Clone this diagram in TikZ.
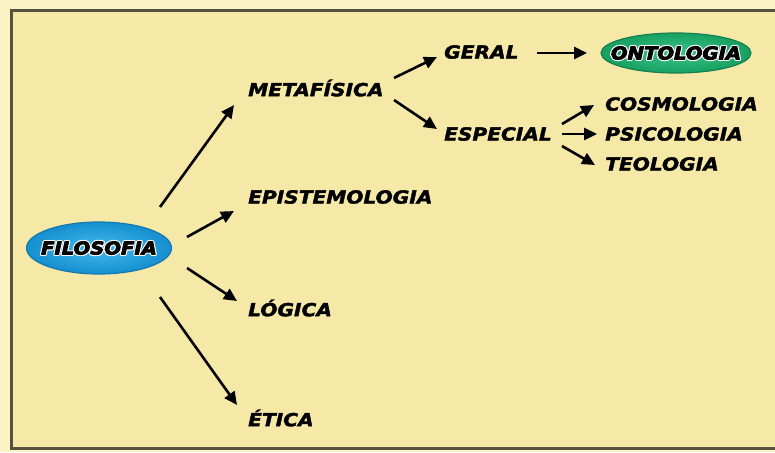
\documentclass[tikz,border=0pt]{standalone}
\usepackage{fontspec}
\setmainfont{DejaVu Sans}
\newfontfamily\termfont[FakeStretch=1.12,FakeBold=2]{DejaVu Sans}
\newfontfamily\ballfont[FakeStretch=1.12]{DejaVu Sans}
\usetikzlibrary{arrows.meta,shapes.geometric}
\definecolor{bgout}{HTML}{FBF2C6}
\definecolor{bgin}{HTML}{F6E9A7}
\definecolor{frame}{HTML}{56523F}
\definecolor{blueA}{HTML}{42B9EC}
\definecolor{blueB}{HTML}{168FCF}
\definecolor{balledge}{HTML}{1479B3}
\definecolor{greenA}{HTML}{3CC486}
\definecolor{greenB}{HTML}{16A062}
\definecolor{greenedge}{HTML}{168050}
\newcommand{\outl}[1]{%
  \special{pdf:literal direct 2 Tr 3.2 w 1 J 1 j 1 1 1 RG 1 1 1 rg}%
  \rlap{#1}%
  \special{pdf:literal direct 2 Tr 0.9 w 0 0 0 RG 0 0 0 rg}%
  #1%
  \special{pdf:literal direct 0 Tr}}
\begin{document}
\begin{tikzpicture}[x=1pt,y=-1pt,
  term/.style={anchor=west,inner sep=0pt,font=\termfont\fontsize{18}{18}\selectfont\bfseries\itshape,text=black},
  balltext/.style={inner sep=0pt,font=\ballfont\fontsize{17.5}{17.5}\selectfont\bfseries\itshape,text=black},
  ballb/.style={ellipse,minimum width=145pt,minimum height=52pt,inner sep=0pt,inner color=blueA,outer color=blueB,draw=balledge,line width=1.2pt},
  ballg/.style={ellipse,minimum width=150pt,minimum height=40pt,inner sep=0pt,inner color=greenA,outer color=greenB,draw=greenedge,line width=1.2pt},
  arr/.style={-{Triangle[length=13pt,width=12pt]},line width=2.6pt,black}]
\useasboundingbox (0,0) rectangle (775,452);
\fill[bgout] (0,0) rectangle (775,452);
\fill[bgin] (11.5,11) rectangle (775,448.5);
\draw[frame,line width=3pt] (780,11) -- (11.5,11) -- (11.5,448.5) -- (780,448.5);
% ellipses
\node[ballb] (filo) at (99,248) {};
\node[balltext] (filot) at (filo.center) {\outl{FILOSOFIA}};
\node[ballg] (onto) at (676,53) {};
\node[balltext] (ontot) at (onto.center) {\outl{ONTOLOGIA}};
% terms
\node[term] (meta) at (248,88) {METAFÍSICA};
\node[term] (epi) at (248,197) {EPISTEMOLOGIA};
\node[term] (log) at (248,308) {LÓGICA};
\node[term] (eti) at (248,418) {ÉTICA};
\node[term] (ger) at (444,52) {GERAL};
\node[term] (esp) at (444,134) {ESPECIAL};
\node[term] (cos) at (605,104) {COSMOLOGIA};
\node[term] (psi) at (605,134) {PSICOLOGIA};
\node[term] (teo) at (605,164) {TEOLOGIA};
% arrow anchors
\coordinate (f1) at (160,207); \coordinate (m1) at (234,105);
\coordinate (f2) at (187,237); \coordinate (e1) at (234,211);
\coordinate (f3) at (187,268); \coordinate (l1) at (237,301);
\coordinate (f4) at (160,297); \coordinate (t1) at (237,405);
\coordinate (ma) at (394,78);  \coordinate (ga) at (437,57);
\coordinate (mb) at (394,100); \coordinate (sa) at (437,129);
\coordinate (gx) at (537,53);  \coordinate (ox) at (587,53);
\coordinate (s1) at (562,124); \coordinate (c1) at (594,105);
\coordinate (s2) at (562,134); \coordinate (p1) at (597,134);
\coordinate (s3) at (562,146); \coordinate (t2) at (595,165);
\draw[arr] (f1) -- (m1);
\draw[arr] (f2) -- (e1);
\draw[arr] (f3) -- (l1);
\draw[arr] (f4) -- (t1);
\draw[arr] (ma) -- (ga);
\draw[arr] (mb) -- (sa);
\draw[arr] (gx) -- (ox);
\draw[arr] (s1) -- (c1);
\draw[arr] (s2) -- (p1);
\draw[arr] (s3) -- (t2);
\end{tikzpicture}
\end{document}
